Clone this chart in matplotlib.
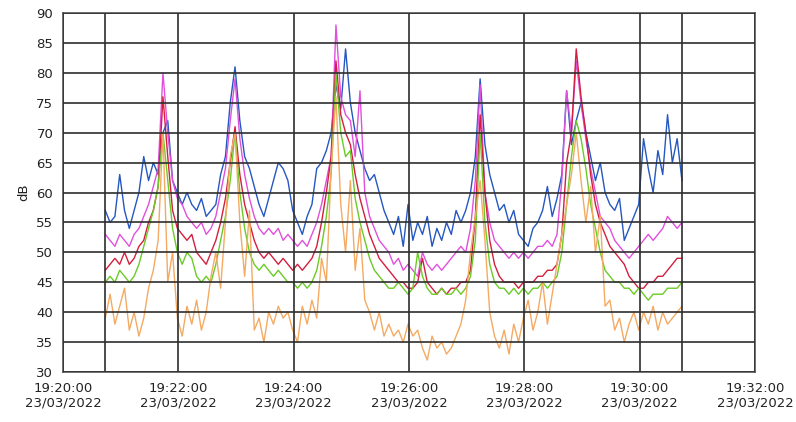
import numpy as np
import matplotlib.pyplot as plt
from matplotlib.ticker import FuncFormatter, MultipleLocator

# Sound level readings (dB), one sample every 5 s starting 19:20:44.

start_s = 44
step_s = 5

blue = [57, 55, 56, 63, 57, 54, 57, 60, 66, 62, 65, 63, 70, 72, 62, 60, 58, 60,
        58, 57, 59, 56, 57, 58, 63, 66, 75, 81, 72, 66, 64, 61, 58, 56, 59, 62,
        65, 64, 62, 57, 55, 53, 56, 58, 64, 65, 67, 70, 78, 74, 84, 75, 70, 67,
        64, 62, 63, 60, 57, 55, 53, 56, 51, 58, 52, 55, 53, 56, 51, 54, 52, 55,
        53, 57, 55, 57, 60, 66, 79, 68, 63, 60, 57, 58, 55, 57, 53, 52, 51, 54,
        55, 57, 61, 56, 59, 63, 77, 68, 72, 75, 70, 66, 62, 65, 60, 58, 57, 59,
        52, 54, 56, 58, 69, 64, 60, 67, 63, 73, 65, 69, 62]

magenta = [53, 52, 51, 53, 52, 51, 53, 54, 56, 58, 61, 64, 80, 70, 62, 59, 58,
           56, 55, 54, 55, 53, 54, 56, 60, 64, 72, 79, 69, 63, 59, 56, 54, 53,
           54, 53, 54, 52, 53, 52, 51, 52, 51, 53, 55, 58, 62, 66, 88, 76, 73,
           72, 66, 77, 60, 56, 54, 52, 51, 50, 48, 49, 47, 48, 47, 46, 50, 48,
           47, 48, 47, 48, 49, 50, 51, 50, 54, 62, 78, 60, 55, 52, 51, 50, 49,
           50, 49, 50, 49, 50, 51, 51, 52, 51, 53, 62, 77, 70, 82, 75, 69, 64,
           60, 56, 55, 54, 52, 51, 50, 49, 50, 51, 52, 53, 52, 53, 54, 56, 55,
           54, 55]

red = [47, 48, 49, 48, 50, 48, 49, 51, 52, 55, 57, 61, 76, 66, 57, 54, 53, 52,
       53, 50, 49, 48, 50, 52, 55, 59, 65, 71, 63, 58, 55, 52, 50, 49, 50, 49,
       48, 49, 48, 47, 48, 47, 48, 49, 51, 55, 60, 66, 82, 73, 70, 68, 63, 59,
       56, 53, 51, 49, 48, 47, 46, 45, 45, 44, 44, 45, 49, 45, 44, 43, 44, 43,
       44, 44, 45, 45, 47, 56, 73, 60, 52, 48, 46, 45, 45, 45, 44, 45, 45, 45,
       46, 46, 47, 47, 48, 53, 65, 70, 84, 76, 70, 63, 58, 55, 53, 51, 50, 49,
       48, 46, 45, 44, 44, 45, 45, 46, 46, 47, 48, 49, 49]

green = [45, 46, 45, 47, 46, 45, 46, 48, 51, 54, 57, 61, 70, 62, 54, 50, 48, 50,
         49, 46, 45, 46, 45, 48, 52, 56, 62, 70, 60, 54, 50, 48, 47, 48, 47, 46,
         47, 46, 45, 45, 44, 45, 44, 45, 47, 51, 56, 63, 80, 70, 66, 67, 59, 55,
         52, 49, 47, 46, 45, 44, 44, 45, 44, 43, 44, 50, 46, 44, 43, 43, 44, 43,
         43, 44, 43, 44, 46, 52, 70, 55, 48, 45, 44, 44, 43, 44, 43, 44, 43, 44,
         44, 45, 44, 45, 46, 50, 58, 66, 72, 69, 64, 58, 54, 50, 47, 46, 45, 45,
         44, 44, 43, 44, 43, 42, 43, 43, 43, 44, 44, 44, 45]

orange = [39, 43, 38, 41, 44, 37, 40, 36, 39, 44, 47, 52, 70, 45, 50, 39, 36,
          41, 38, 42, 37, 40, 46, 50, 44, 55, 66, 70, 55, 46, 57, 37, 39, 35,
          40, 38, 41, 39, 40, 37, 35, 41, 38, 42, 39, 49, 45, 64, 76, 58, 50,
          62, 47, 54, 42, 40, 37, 40, 36, 38, 36, 37, 35, 38, 36, 37, 34, 32,
          36, 34, 35, 33, 34, 36, 38, 42, 50, 56, 62, 52, 40, 36, 34, 37, 33,
          38, 35, 39, 42, 37, 40, 45, 38, 43, 48, 53, 58, 63, 70, 62, 55, 61,
          50, 56, 41, 42, 37, 39, 35, 38, 40, 37, 40, 38, 41, 37, 40, 38, 39,
          40, 41]

series = [(blue, '#2457c0'), (magenta, '#e050dc'), (red, '#d41e3e'),
          (green, '#6acb26'), (orange, '#f4aa62')]

t = start_s + step_s * np.arange(len(blue))


def time_fmt(v, pos):
    minutes = int(round(v / 60.0))
    return "19:{0:02d}:00\n23/03/2022".format(20 + minutes)


fig = plt.figure(figsize=(7.96, 4.22), dpi=100)
axes = fig.add_axes([63 / 796, 1 - 372 / 422, 692 / 796, 359 / 422])

for values, colour in series:
    axes.plot(t, values, color=colour, linewidth=1.0)

# Grid, plus markers at the start and end of the recording.

axes.grid(True, color='#2e2e2e', linewidth=1.2)
axes.axvline(t[0], color='#2e2e2e', linewidth=1.2)
axes.axvline(t[-1], color='#2e2e2e', linewidth=1.2)
axes.set_axisbelow(False)

axes.set_xlim(0, 720)
axes.set_ylim(30, 90)
axes.xaxis.set_major_locator(MultipleLocator(120))
axes.xaxis.set_major_formatter(FuncFormatter(time_fmt))
axes.yaxis.set_major_locator(MultipleLocator(5))

for spine in axes.spines.values():
    spine.set_color('#555555')
    spine.set_linewidth(1.2)

axes.tick_params(length=0, labelsize=9.5, colors='#222222', pad=7)
axes.set_ylabel("dB", fontsize=9.5, color='#222222', labelpad=4)

plt.savefig("out.png", dpi=100)
plt.close()
